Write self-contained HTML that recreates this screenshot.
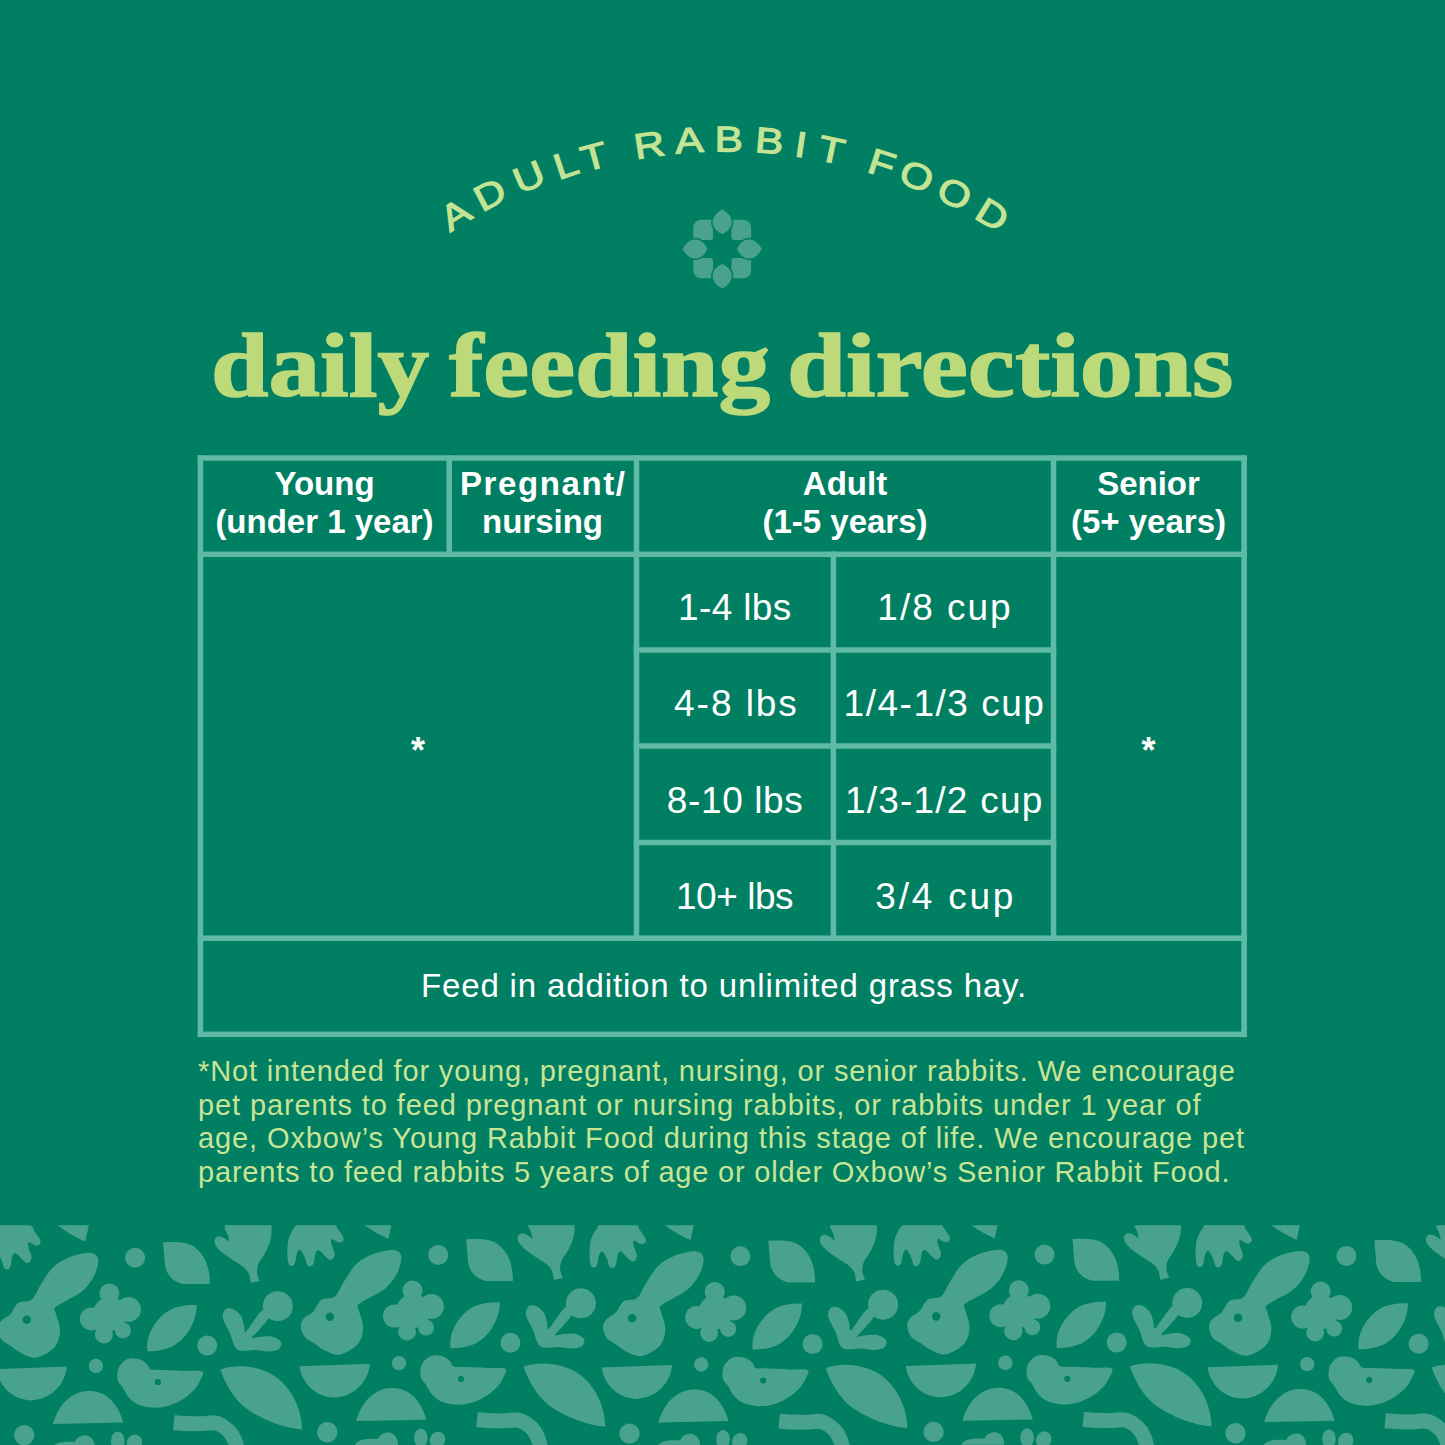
<!DOCTYPE html>
<html><head><meta charset="utf-8">
<style>
html,body{margin:0;padding:0;}
body{width:1445px;height:1445px;background:#007f63;position:relative;overflow:hidden;font-family:"Liberation Sans",sans-serif;}
.t{position:absolute;white-space:nowrap;color:#fff;text-align:center;}
.hd{font-weight:bold;font-size:33px;line-height:38px;}
.bd{font-size:38px;line-height:40px;}
.tw{position:absolute;top:315px;white-space:nowrap;transform-origin:0 0;font-family:"Liberation Serif",serif;font-weight:bold;font-size:92px;color:#bdda7a;line-height:100px;-webkit-text-stroke:1.5px #bdda7a;}
.nt{position:absolute;left:198px;font-size:29px;line-height:34px;color:#c8e494;white-space:nowrap;}
</style></head><body>
<svg id="arc" width="1445" height="320" style="position:absolute;left:0;top:0">
 <g fill="#c4e494" stroke="#c4e494" stroke-width="1.1" font-family="Liberation Sans" font-size="36" text-anchor="middle">
<text transform="rotate(-32.1 726 646) translate(726 149.0) scale(1.18 1)">A</text>
<text transform="rotate(-27.6 726 646) translate(726 148.7) scale(1.18 1)">D</text>
<text transform="rotate(-22.8 726 646) translate(726 149.5) scale(1.18 1)">U</text>
<text transform="rotate(-18.4 726 646) translate(726 151.0) scale(1.18 1)">L</text>
<text transform="rotate(-15.1 726 646) translate(726 151.5) scale(1.18 1)">T</text>
<text transform="rotate(-8.7 726 646) translate(726 151.5) scale(1.18 1)">R</text>
<text transform="rotate(-4.2 726 646) translate(726 151.5) scale(1.18 1)">A</text>
<text transform="rotate(0.3 726 646) translate(726 151.5) scale(1.18 1)">B</text>
<text transform="rotate(4.9 726 646) translate(726 151.5) scale(1.18 1)">B</text>
<text transform="rotate(8.5 726 646) translate(726 151.5) scale(1.18 1)">I</text>
<text transform="rotate(12.0 726 646) translate(726 151.5) scale(1.18 1)">T</text>
<text transform="rotate(17.9 726 646) translate(726 151.5) scale(1.18 1)">F</text>
<text transform="rotate(22.1 726 646) translate(726 151.5) scale(1.18 1)">O</text>
<text transform="rotate(26.8 726 646) translate(726 151.5) scale(1.18 1)">O</text>
<text transform="rotate(31.7 726 646) translate(726 151.5) scale(1.18 1)">D</text>
 </g>
 <g fill="#49a28e">
  <path d="M702 219.8 H710 Q713 219.8 713 223 V237 Q713 240 710 240 H696.5 Q693.3 240 693.3 237 V228.5 Q693.3 219.8 702 219.8 Z"/>
  <path transform="translate(1444.4 0) scale(-1 1)" d="M702 219.8 H710 Q713 219.8 713 223 V237 Q713 240 710 240 H696.5 Q693.3 240 693.3 237 V228.5 Q693.3 219.8 702 219.8 Z"/>
  <path transform="translate(0 498) scale(1 -1)" d="M702 219.8 H710 Q713 219.8 713 223 V237 Q713 240 710 240 H696.5 Q693.3 240 693.3 237 V228.5 Q693.3 219.8 702 219.8 Z"/>
  <path transform="translate(1444.4 498) scale(-1 -1)" d="M702 219.8 H710 Q713 219.8 713 223 V237 Q713 240 710 240 H696.5 Q693.3 240 693.3 237 V228.5 Q693.3 219.8 702 219.8 Z"/>
 </g>
 <g fill="#49a28e" stroke="#007f63" stroke-width="1.6">
<path transform="rotate(0 722.2 249.0)" d="M722.2 208.5 C730.2 212.5 732.8 217.5 732.6 223.0 C732.4 228.5 727.2 233.0 722.2 235.0 C717.2 233.0 712.0 228.5 711.8 223.0 C711.6 217.5 714.2 212.5 722.2 208.5 Z"/>
<path transform="rotate(90 722.2 249.0)" d="M722.2 208.5 C730.2 212.5 732.8 217.5 732.6 223.0 C732.4 228.5 727.2 233.0 722.2 235.0 C717.2 233.0 712.0 228.5 711.8 223.0 C711.6 217.5 714.2 212.5 722.2 208.5 Z"/>
<path transform="rotate(180 722.2 249.0)" d="M722.2 208.5 C730.2 212.5 732.8 217.5 732.6 223.0 C732.4 228.5 727.2 233.0 722.2 235.0 C717.2 233.0 712.0 228.5 711.8 223.0 C711.6 217.5 714.2 212.5 722.2 208.5 Z"/>
<path transform="rotate(270 722.2 249.0)" d="M722.2 208.5 C730.2 212.5 732.8 217.5 732.6 223.0 C732.4 228.5 727.2 233.0 722.2 235.0 C717.2 233.0 712.0 228.5 711.8 223.0 C711.6 217.5 714.2 212.5 722.2 208.5 Z"/>
 </g>
</svg>
<div class="tw" style="left:211px;transform:scaleX(1.123)">daily</div><div class="tw" style="left:449px;transform:scaleX(1.122)">feeding</div><div class="tw" style="left:787px;transform:scaleX(1.154)">directions</div>


<svg width="1445" height="1100" style="position:absolute;left:0;top:0"><g fill="#5eb9a7"><rect x="197.70" y="455.25" width="1049.15" height="5.50"/><rect x="197.70" y="551.55" width="1049.15" height="5.50"/><rect x="197.70" y="935.45" width="1049.15" height="5.50"/><rect x="197.70" y="1031.55" width="1049.15" height="5.50"/><rect x="633.75" y="647.25" width="422.50" height="5.50"/><rect x="633.75" y="743.25" width="422.50" height="5.50"/><rect x="633.75" y="839.75" width="422.50" height="5.50"/><rect x="197.70" y="455.25" width="5.50" height="581.80"/><rect x="1241.35" y="455.25" width="5.50" height="581.80"/><rect x="446.45" y="455.25" width="5.50" height="101.80"/><rect x="633.75" y="455.25" width="5.50" height="485.70"/><rect x="1050.75" y="455.25" width="5.50" height="485.70"/><rect x="830.65" y="551.55" width="5.50" height="389.40"/></g></svg>
<div class="t hd" style="left:200px;width:249px;top:465px">Young<br>(under 1 year)</div>
<div class="t hd" style="left:449px;width:187px;top:465px"><span style="letter-spacing:1.6px;margin-right:-1.6px">Pregnant/</span><br>nursing</div>
<div class="t hd" style="left:636px;width:418px;top:465px">Adult<br>(1-5 years)</div>
<div class="t hd" style="left:1053px;width:191px;top:465px">Senior<br>(5+ years)</div>

<div class="t bd" style="left:200px;width:436px;top:731px;font-weight:bold;font-size:36px">*</div>
<div class="t bd" style="left:1053px;width:191px;top:731px;font-weight:bold;font-size:36px">*</div>

<div class="t bd" style="left:636px;width:197px;top:587.6px;letter-spacing:0.37px;font-size:37px;padding-left:0.37px">1-4 lbs</div>
<div class="t bd" style="left:833px;width:220px;top:587.6px;letter-spacing:2.0px;font-size:37px;padding-left:2.0px">1/8 cup</div>
<div class="t bd" style="left:636px;width:197px;top:684.3px;letter-spacing:1.95px;font-size:37px;padding-left:1.95px">4-8 lbs</div>
<div class="t bd" style="left:833px;width:220px;top:684.3px;letter-spacing:1.52px;font-size:37px;padding-left:1.52px">1/4-1/3 cup</div>
<div class="t bd" style="left:636px;width:197px;top:781px;letter-spacing:0.61px;font-size:37px;padding-left:0.61px">8-10 lbs</div>
<div class="t bd" style="left:833px;width:220px;top:781px;letter-spacing:1.22px;font-size:37px;padding-left:1.22px">1/3-1/2 cup</div>
<div class="t bd" style="left:636px;width:197px;top:876.5px;letter-spacing:-0.47px;font-size:37px;padding-left:-0.47px">10+ lbs</div>
<div class="t bd" style="left:833px;width:220px;top:876.5px;letter-spacing:2.78px;font-size:37px;padding-left:2.78px">3/4 cup</div>

<div class="t" style="left:200px;width:1044px;top:966px;font-size:33px;line-height:40px;letter-spacing:0.86px;padding-left:2px">Feed in addition to unlimited grass hay.</div>

<div class="nt" style="top:1054px;letter-spacing:0.84px">*Not intended for young, pregnant, nursing, or senior rabbits. We encourage</div>
<div class="nt" style="top:1087.6px;letter-spacing:0.89px">pet parents to feed pregnant or nursing rabbits, or rabbits under 1 year of</div>
<div class="nt" style="top:1121.2px;letter-spacing:0.895px">age, Oxbow’s Young Rabbit Food during this stage of life. We encourage pet</div>
<div class="nt" style="top:1154.8px;letter-spacing:0.81px">parents to feed rabbits 5 years of age or older Oxbow’s Senior Rabbit Food.</div>

<svg width="1445" height="1445" style="position:absolute;left:0;top:0">
 <defs>
  <clipPath id="pc"><rect x="0" y="1225.3" width="1445" height="220"/></clipPath>
  <g id="tile">
   <path d="M300.0,1222.0 C306.1,1221.2 325.2,1220.9 331.5,1222.0 C337.8,1223.1 336.0,1226.8 337.5,1228.5 C339.0,1230.2 339.6,1231.2 340.5,1232.5 C341.4,1233.8 342.5,1235.2 343.0,1236.5 C343.5,1237.8 343.8,1239.0 343.5,1240.0 C343.2,1241.0 342.0,1242.2 341.0,1242.5 C340.0,1242.8 338.8,1242.5 337.5,1242.0 C336.2,1241.5 334.1,1239.8 333.0,1239.5 C331.9,1239.2 331.2,1239.4 331.0,1240.5 C330.8,1241.6 331.4,1243.9 332.0,1246.0 C332.6,1248.1 334.2,1251.0 334.5,1253.0 C334.8,1255.0 334.2,1256.8 333.5,1258.0 C332.8,1259.2 331.2,1260.1 330.0,1260.0 C328.8,1259.9 328.2,1259.0 326.5,1257.5 C324.8,1256.0 321.5,1252.2 320.0,1251.0 C318.5,1249.8 318.2,1250.2 317.5,1250.5 C316.8,1250.8 316.0,1251.6 315.5,1253.0 C315.0,1254.4 314.9,1257.1 314.5,1259.0 C314.1,1260.9 313.8,1263.2 313.0,1264.5 C312.2,1265.8 311.0,1266.5 310.0,1266.5 C309.0,1266.5 307.8,1265.9 307.0,1264.5 C306.2,1263.1 306.0,1260.3 305.0,1258.0 C304.0,1255.7 302.1,1251.8 301.0,1250.5 C299.9,1249.2 299.2,1249.8 298.5,1250.5 C297.8,1251.2 297.1,1252.9 296.5,1255.0 C295.9,1257.1 295.8,1261.2 295.0,1263.0 C294.2,1264.8 293.1,1265.9 292.0,1266.0 C290.9,1266.1 289.3,1265.8 288.5,1263.5 C287.7,1261.2 287.3,1255.9 287.3,1252.0 C287.3,1248.1 287.6,1243.4 288.3,1240.0 C289.0,1236.6 290.6,1233.9 291.7,1231.7 C292.8,1229.5 293.6,1228.6 295.0,1227.0 C296.4,1225.4 293.9,1222.8 300.0,1222.0Z"/>
   <path d="M358,1220 L392.5,1220 L388.4,1238.7 C380,1235 370,1230 358,1220 Z"/>
   <circle cx="438.2" cy="1254.9" r="10.0"/>
   <path d="M393.8,1250.0 C398.5,1250.4 400.8,1252.7 401.3,1256.6 C401.9,1260.5 399.7,1267.9 397.1,1273.2 C394.5,1278.5 390.2,1284.1 385.5,1288.2 C380.8,1292.3 373.5,1295.3 368.9,1298.1 C364.3,1300.9 359.8,1302.7 358.1,1304.8 C356.4,1306.9 358.1,1306.9 358.9,1310.6 C359.7,1314.3 363.2,1321.7 363.1,1327.2 C363.0,1332.7 362.0,1339.2 358.1,1343.8 C354.2,1348.4 345.3,1353.5 339.8,1354.6 C334.3,1355.7 329.0,1352.3 324.9,1350.5 C320.8,1348.7 318.2,1346.0 314.9,1343.8 C311.6,1341.6 307.4,1340.1 305.0,1337.2 C302.6,1334.3 300.9,1329.6 300.8,1326.4 C300.7,1323.2 302.0,1320.6 304.1,1318.1 C306.2,1315.6 310.4,1314.5 313.3,1311.4 C316.2,1308.4 318.0,1302.3 321.6,1299.8 C325.2,1297.3 331.2,1299.5 334.9,1296.5 C338.6,1293.5 340.4,1286.9 344.0,1281.5 C347.6,1276.1 351.5,1268.7 356.4,1264.1 C361.2,1259.5 366.9,1256.4 373.1,1254.1 C379.3,1251.8 389.1,1249.6 393.8,1250.0Z"/>
   <circle cx="413.0" cy="1311.0" r="17.0"/>
   <circle cx="412.5" cy="1290.5" r="10.0"/>
   <circle cx="431.5" cy="1306.5" r="12.5"/>
   <circle cx="426.0" cy="1327.5" r="8.0"/>
   <circle cx="407.0" cy="1331.5" r="9.0"/>
   <circle cx="394.5" cy="1316.0" r="11.5"/>
   <path d="M466.2,1239.3 C478,1239 492,1238 500,1246 C510,1255 513,1268 512.9,1281 L486,1281 C478,1279 470,1274 468,1262 Z"/>
   <path d="M527.7,1220 L574.8,1220 L574.6,1230 C574,1240 569,1250 563,1258 C560,1263 559.5,1268 560.5,1272 L562.8,1278 L554,1280 L552.5,1272 C550,1266 546,1263 538,1258.5 C530,1253 522,1248 518.5,1242 C516,1237 519,1233 523,1233.5 C527,1234 530,1237 532.5,1239 L531,1232 L528,1226 Z"/>
   <path d="M450.6,1348.3 C448,1330 462,1312 475,1306 C485,1302 495,1302 499.8,1302.2 C500,1318 490,1335 478,1342 C470,1347 460,1348 450.6,1348.3 Z"/>
   <circle cx="510.4" cy="1342.7" r="10.0"/>
   <circle cx="580.9" cy="1303.3" r="15.0"/>
   <path d="M540.5,1346.5 C536.3,1343.7 535.4,1335.2 533.0,1330.0 C530.6,1324.8 526.7,1319.0 526.0,1315.0 C525.3,1311.0 527.2,1307.4 529.0,1306.0 C530.8,1304.6 534.5,1305.3 537.0,1306.5 C539.5,1307.7 542.3,1310.4 544.0,1313.0 C545.7,1315.6 546.2,1319.3 547.0,1322.0 C547.8,1324.7 547.0,1329.5 548.5,1329.0 C550.0,1328.5 553.1,1322.7 556.0,1319.0 C558.9,1315.3 563.3,1307.8 566.0,1307.0 C568.7,1306.2 572.5,1310.8 572.0,1314.0 C571.5,1317.2 565.8,1322.5 563.0,1326.0 C560.2,1329.5 555.2,1333.6 555.0,1335.0 C554.8,1336.4 558.7,1334.4 562.0,1334.2 C565.3,1334.0 571.3,1332.9 575.0,1333.7 C578.7,1334.5 582.8,1337.0 584.0,1339.0 C585.2,1341.0 584.0,1344.4 582.0,1346.0 C580.0,1347.6 576.0,1348.3 572.0,1348.5 C568.0,1348.7 563.2,1347.3 558.0,1347.0 C552.8,1346.7 544.7,1349.3 540.5,1346.5Z"/>
   <circle cx="399.0" cy="1363.1" r="7.2"/>
   <path d="M299.3,1366.2 L369.7,1363.7 C369,1380 355,1397 334,1397.5 C315,1397 302,1383 299.3,1366.2 Z"/>
   <path d="M356,1421 C362,1400 376,1388 392,1388 C408,1388 420,1398 426.4,1419.7 Z"/>
   <circle cx="327.3" cy="1432.2" r="10.2"/>
   <path d="M435.8,1355.3 C438.6,1355.3 442.6,1356.2 445.0,1357.3 C447.4,1358.4 449.0,1360.2 450.5,1361.8 C452.0,1363.3 451.6,1365.7 454.0,1366.6 C456.4,1367.5 459.0,1366.8 465.0,1367.0 C471.0,1367.2 483.2,1367.7 490.0,1368.0 C496.8,1368.3 503.2,1367.2 505.5,1368.7 C507.8,1370.2 504.8,1374.1 503.5,1377.0 C502.2,1379.9 500.6,1383.0 498.0,1386.0 C495.4,1389.0 491.7,1392.3 487.7,1395.0 C483.7,1397.7 478.6,1400.4 474.0,1402.0 C469.4,1403.6 464.3,1404.5 460.0,1404.7 C455.7,1405.0 451.5,1404.2 448.0,1403.5 C444.5,1402.8 441.9,1402.0 439.2,1400.5 C436.5,1399.0 433.8,1396.4 432.0,1394.5 C430.2,1392.6 429.4,1390.8 428.3,1389.0 C427.2,1387.2 426.6,1385.7 425.5,1384.0 C424.4,1382.3 422.4,1380.9 421.5,1379.0 C420.6,1377.1 420.2,1375.3 420.3,1372.8 C420.4,1370.3 420.7,1366.5 422.0,1364.0 C423.3,1361.5 425.7,1359.0 428.0,1357.5 C430.3,1356.0 433.0,1355.3 435.8,1355.3Z"/>
   <path d="M523.5,1366.5 C540,1361 565,1362 583,1377 C598,1390 605,1410 605.2,1426.7 C585,1425 560,1415 545,1402 C535,1392 528,1380 523.5,1366.5 Z"/>
   <path d="M477,1419.8 C490,1421 503,1421.5 514,1420 C522,1419.5 530,1425 535,1432 C538,1437 540,1442 541,1450" fill="none" stroke-width="15"/>
   <path d="M355,1445 C357,1440 365,1438 378,1439 C380,1434 385,1432 390,1432.5 C396,1434 398,1440 398,1445 Z"/>
   <ellipse cx="420.8" cy="1438" rx="6.8" ry="9.5"/>
   <ellipse cx="437.5" cy="1440" rx="7.5" ry="8.5" transform="rotate(25 437.5 1440)"/>
   <g fill="#007f63"><circle cx="329.9" cy="1316.8" r="4.2"/><circle cx="461" cy="1379.1" r="3.1"/></g>
  </g>
 </defs>
 <g clip-path="url(#pc)" fill="#49a28e" stroke="#49a28e" stroke-width="0">
  <use href="#tile" transform="translate(-606 1.5)"/>
  <use href="#tile" transform="translate(-303.1 2.9)"/>
  <use href="#tile"/>
  <use href="#tile" transform="translate(302.2 1.4)"/>
  <use href="#tile" transform="translate(606.3 -0.3)"/>
  <use href="#tile" transform="translate(908.2 1)"/>
 </g>
</svg>

</body></html>
